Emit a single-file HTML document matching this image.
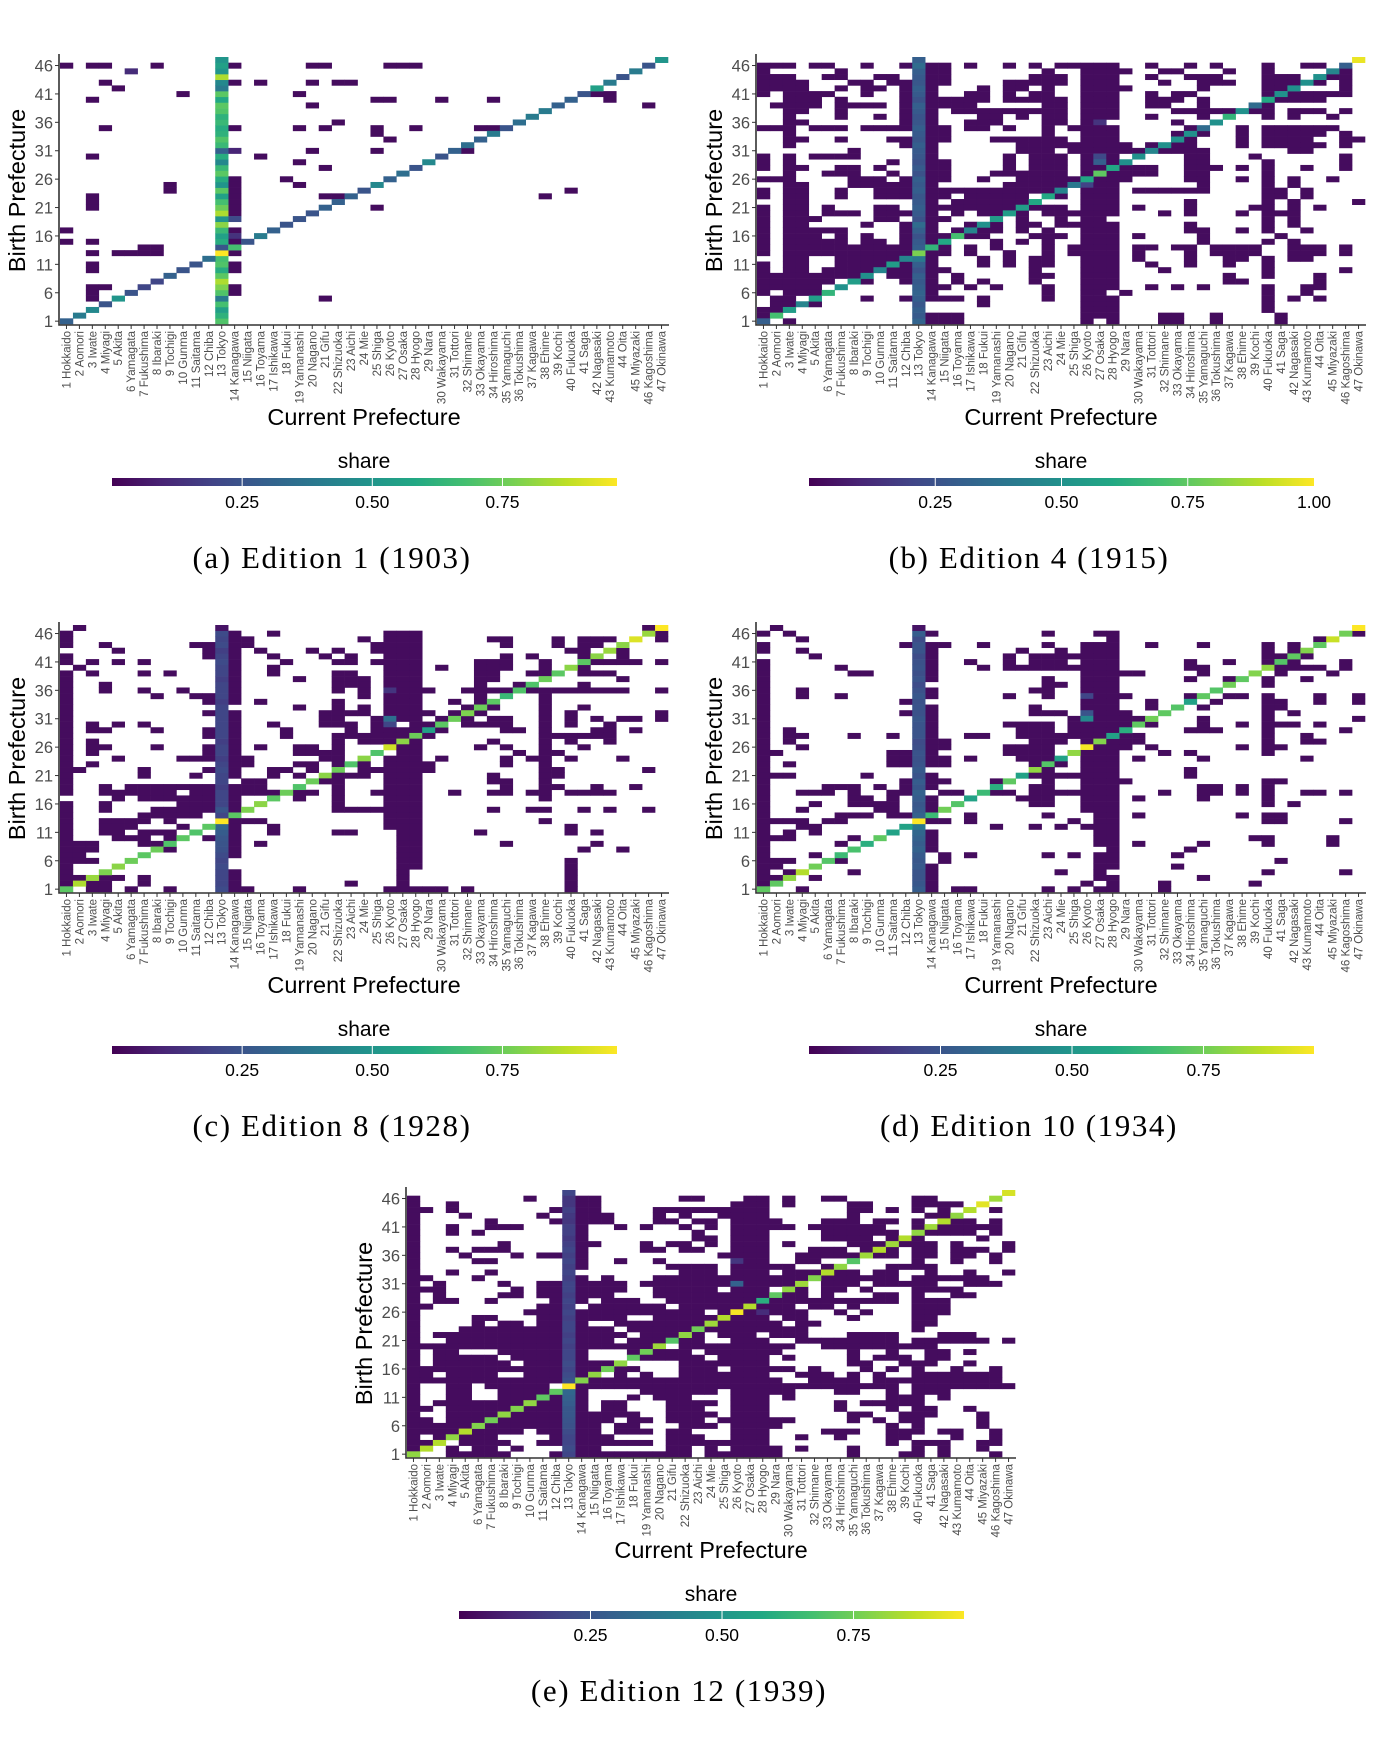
<!DOCTYPE html>
<html><head><meta charset="utf-8">
<style>
html,body{margin:0;padding:0;background:#fff;}
svg{display:block;}
</style></head>
<body>
<svg id="fig" width="1374" height="1737" viewBox="0 0 1374 1737" xmlns="http://www.w3.org/2000/svg" font-family="Liberation Sans, sans-serif"></svg>
<script>
const prefs = ["Hokkaido","Aomori","Iwate","Miyagi","Akita","Yamagata","Fukushima","Ibaraki","Tochigi","Gunma","Saitama","Chiba","Tokyo","Kanagawa","Niigata","Toyama","Ishikawa","Fukui","Yamanashi","Nagano","Gifu","Shizuoka","Aichi","Mie","Shiga","Kyoto","Osaka","Hyogo","Nara","Wakayama","Tottori","Shimane","Okayama","Hiroshima","Yamaguchi","Tokushima","Kagawa","Ehime","Kochi","Fukuoka","Saga","Nagasaki","Kumamoto","Oita","Miyazaki","Kagoshima","Okinawa"];
const yTicks = [1,6,11,16,21,26,31,36,41,46];
const captions = ["(a) Edition 1 (1903)","(b) Edition 4 (1915)","(c) Edition 8 (1928)","(d) Edition 10 (1934)","(e) Edition 12 (1939)"];
const barMax = [0.97,1.0,0.97,0.96,0.96];
const barTicksA = [0.25,0.5,0.75];
const barTicksB = [0.25,0.5,0.75,1.0];
const offVal = 0.03;

const diagA = [0.3,0.4,0.45,0.25,0.5,0.25,0.2,0.2,0.3,0.25,0.25,0.35,0.97,0.68,0.25,0.4,0.3,0.25,0.25,0.25,0.3,0.3,0.3,0.25,0.45,0.3,0.35,0.25,0.45,0.25,0.3,0.35,0.3,0.4,0.25,0.35,0.4,0.4,0.3,0.3,0.25,0.55,0.4,0.25,0.4,0.25,0.5];
const diagB = [0.3,0.7,0.55,0.45,0.55,0.65,0.5,0.55,0.5,0.45,0.55,0.45,0.8,0.65,0.6,0.7,0.45,0.5,0.55,0.55,0.55,0.6,0.6,0.45,0.4,0.6,0.75,0.6,0.5,0.5,0.45,0.5,0.5,0.5,0.35,0.5,0.65,0.5,0.35,0.6,0.5,0.5,0.5,0.5,0.45,0.3,0.97];
const diagC = [0.72,0.85,0.82,0.78,0.8,0.75,0.72,0.75,0.7,0.72,0.7,0.72,0.97,0.72,0.78,0.8,0.72,0.75,0.7,0.75,0.8,0.75,0.7,0.8,0.7,0.9,0.8,0.75,0.55,0.72,0.75,0.78,0.75,0.72,0.65,0.7,0.7,0.75,0.72,0.8,0.72,0.8,0.82,0.8,0.92,0.82,0.97];
const diagD = [0.72,0.72,0.8,0.85,0.75,0.7,0.65,0.68,0.6,0.72,0.55,0.55,0.97,0.65,0.75,0.7,0.55,0.65,0.6,0.72,0.55,0.8,0.7,0.55,0.8,0.95,0.78,0.55,0.6,0.72,0.75,0.72,0.7,0.55,0.72,0.7,0.75,0.72,0.78,0.8,0.7,0.72,0.78,0.72,0.88,0.75,0.97];
const diagE = [0.8,0.85,0.85,0.8,0.85,0.78,0.75,0.8,0.78,0.8,0.72,0.72,0.97,0.78,0.8,0.75,0.8,0.72,0.75,0.82,0.7,0.8,0.75,0.82,0.85,0.95,0.85,0.6,0.72,0.8,0.82,0.78,0.85,0.8,0.7,0.82,0.85,0.82,0.85,0.8,0.82,0.85,0.8,0.85,0.92,0.82,0.9];
const tokyoA = [0.7,0.62,0.55,0.68,0.4,0.7,0.78,0.85,0.72,0.6,0.7,0.68,0.97,0.25,0.6,0.55,0.65,0.8,0.5,0.85,0.75,0.68,0.55,0.72,0.5,0.6,0.72,0.65,0.45,0.6,0.3,0.65,0.7,0.62,0.6,0.65,0.62,0.7,0.72,0.58,0.72,0.4,0.45,0.85,0.5,0.55,0.5];
const tokyoB = [0.32,0.28,0.3,0.27,0.3,0.32,0.3,0.28,0.3,0.26,0.3,0.4,0.8,0.3,0.28,0.25,0.3,0.35,0.25,0.28,0.3,0.28,0.27,0.3,0.28,0.3,0.25,0.28,0.25,0.27,0.28,0.3,0.27,0.28,0.3,0.27,0.26,0.28,0.3,0.25,0.28,0.3,0.27,0.28,0.3,0.35,0.3];
const tokyoC = [0.22,0.2,0.2,0.2,0.22,0.2,0.22,0.24,0.25,0.26,0.28,0.32,0.97,0.2,0.25,0.2,0.2,0.2,0.18,0.2,0.2,0.22,0.2,0.18,0.2,0.2,0.18,0.2,0.2,0.2,0.2,0.2,0.2,0.18,0.2,0.2,0.2,0.18,0.2,0.2,0.22,0.2,0.18,0.22,0.2,0.22,0.05];
const tokyoD = [0.28,0.26,0.25,0.25,0.27,0.26,0.27,0.3,0.28,0.3,0.32,0.38,0.97,0.3,0.27,0.26,0.28,0.3,0.26,0.28,0.25,0.27,0.25,0.24,0.25,0.23,0.22,0.25,0.25,0.25,0.26,0.24,0.25,0.24,0.26,0.24,0.22,0.25,0.23,0.25,0.24,0.22,0.25,0.25,0.22,0.28,0.05];
const tokyoE = [0.2,0.22,0.2,0.2,0.22,0.24,0.25,0.26,0.26,0.28,0.3,0.32,0.97,0.24,0.22,0.2,0.22,0.2,0.2,0.18,0.2,0.18,0.2,0.2,0.18,0.2,0.18,0.2,0.18,0.2,0.2,0.18,0.2,0.18,0.2,0.18,0.2,0.18,0.16,0.18,0.18,0.15,0.16,0.18,0.15,0.15,0.2];

const offA = [[],[1,3,4,8,14,20,21,26,27,28],[6],[],[4,14,16,20,22,23],[5],[10,19,42,43],[3,25,26,30,34,43],[20,46],[],[],[22],[4,14,19,21,25,28,33,34],[25],[26],[],[14,20,25,32],[3,16],[19],[21],[],[14,18],[9,14,19],[9,14,40],[3,14,21,22,38],[3,14],[3,14,25],[14],[14],[],[1,14],[14],[1,3,14],[7,8],[3,5,6,7,8,14],[],[3,14],[3,14],[],[],[3,4,14],[3,14],[3,21],[],[],[],[]];
const offB = [[],[1,2,3,5,6,9,12,14,15,17,20,22,24,25,26,27,28,31,34,36,40,43,44],[1,7,14,15,23,26,27,28,29,32,33,37,40,46],[1,2,3,6,7,10,11,14,15,22,23,24,26,27,28,31,34,35,36,40,41,42,45,46],[1,2,3,4,8,9,11,12,14,15,20,21,22,23,24,26,27,28,32,35,36,37,40,41,42,44,46],[1,2,3,4,7,9,10,12,14,18,20,21,23,26,27,28,29,35,40,41,46],[1,3,4,5,6,9,12,14,17,18,20,22,23,26,27,28,31,33,34,40,42,43,44,45,46],[3,4,5,7,12,14,15,16,17,18,20,21,22,23,24,26,27,28,31,32,33,35,41,42,43,44],[2,3,4,5,7,8,9,10,12,14,15,16,17,23,24,26,27,28,31,32,35,40],[3,4,7,12,14,16,17,18,19,20,21,22,23,24,26,27,28,33,34,35,36,37,39,40,42,43,44,46],[3,7,10,12,14,18,19,21,23,24,26,27,28,31,35,40,42,45],[3,4,12,14,17,18,19,23,24,26,27,33],[1,2,3,5,6,7,9,10,11,12,14,15,17,18,20,23,25,26,27,28,34,38,40,41,42,43,44,45],[3,14,15,23,26,27,28,33,35,38,40,41,42,43,44,46],[3,4,7,11,12,14,15,19,20,21,22,23,24,26,27,28,34,38,40,41,42,43,46,47],[3,12,14,21,22,23,24,25,26,27,28,29,31,33,34,38,40,41,42,43,44,46],[8,14,21,22,23,25,26,27,28,29,30,32,33,34,35,42,43],[1,3,5,6,7,8,14,20,22,23,24,26,27,28,34,35,39,46],[1,3,11,14,15,20,22,23,24,26,27,28,34,35,40,46],[1,3,4,7,8,10,14,15,20,22,23,24,26,27,29,30,31,34,35,36,38,40,43,46],[3,6,7,8,11,14,15,19,20,21,22,23,24,26,28,29,30,31,34,35,40],[1,2,3,8,9,10,12,14,15,18,21,22,23,24,25,27,28,29,34,35,38,40,42,45],[3,4,8,9,10,11,12,14,20,21,22,23,24,26,27,28,35,40,42],[1,3,4,7,10,11,12,14,15,16,17,18,19,20,21,22,23,26,27,28,30,31,32,33,34,35,40,41,43],[1,3,4,7,10,11,12,14,15,17,18,19,20,21,24,26,27,28,40,41,43],[3,4,14,16,17,18,19,20,21,26,27,28,34,40,42,47],[1,3,4,6,10,11,14,15,16,17,18,19,20,22,23,24,26,27,28,30,34,39,40,42,44],[1,3,4,6,7,8,10,11,12,14,16,18,19,21,23,24,25,26,27,28,32,34,38,40,41,42],[1,3,4,5,10,11,14,15,21,24,26,27,40,42],[1,3,4,9,12,14,17,19,21,22,24,25,26,27,28,34,40,42],[1,3,4,5,6,7,12,14,16,18,19,21,23,26,27,28,34,35,38,40,43],[1,3,4,5,7,9,12,14,15,17,18,22,23,24,26,27,28,30,35,41],[1,3,4,5,6,7,9,10,12,14,19,21,23,26,27,28,35,40,42],[1,3,4,5,6,7,8,9,10,11,12,15,17,19,23,25,26,27,28,30,31,33,34,36,37,38,39,42,43,44,46],[1,3,4,5,6,7,8,9,10,11,12,14,15,17,20,23,25,26,27,28,30,34,36,37,38,39,42,43,44,46],[3,4,7,8,9,10,11,14,18,20,22,23,26,27,28,30,34,37,38,40,42,43],[1,3,4,7,8,9,10,12,14,18,20,22,23,26,27,28,31,34,37,40],[1,3,4,6,7,8,9,11,12,14,15,22,26,27,28,32,40,46],[1,2,3,4,5,6,7,8,11,12,14,16,22,23,26,27,28,37,40,44],[1,2,3,4,5,6,9,12,14,16,18,22,26,27,28,37,38,44],[1,2,3,4,5,14,15,17,19,23,26,27,28,31,33,35,40,43,44],[1,3,4,5,14,23,26,27,29,40,43],[2,3,9,12,14,15,16,18,23,26,27,28,40,42,44],[2,3,4,5,18,26,27,28,40],[1,2,26,27,28,40],[1,14,15,16,26,27,28,32,33,36,41],[3,14,15,16,26,28,32,33,36,41]];
const offC = [[2,46],[1,14,17,26,27,28,47],[1,14,15,24,26,27,28,34,35,39,41,42,43,47],[1,4,11,12,14,15,25,26,27,28,35,39,41,42],[5,12,14,16,20,22,25,26,27,28,40,41,43,44],[1,12,14,17,21,23,26,27,28,35,37,41,42,44],[1,3,5,7,14,18,22,23,25,26,27,28,33,34,35,38,42,43,44,45,47],[2,14,17,26,27,28,30,33,34,35,38,41],[1,3,7,9,14,17,22,23,26,27,28,33,34,37,38,41,42,43],[1,14,19,22,23,24,26,27,28,33,34,38,44],[1,4,14,22,23,24,26,27,28,33,36,37,41],[1,4,7,10,14,22,24,26,27,28,29,32,33,34,35,37,38,39,40,41,42,43,44,47],[1,8,11,12,14,24,26,27,28,33,38],[1,12,14,16,22,26,27,28,31,33,34,38],[1,19,22,24,26,27,28,32,34,38,41],[1,12,14,21,22,23,24,26,27,28,29,31,33,38,40,47],[1,14,21,22,25,26,27,28,30,31,32,34,35,38,40,42,44,45,47],[1,3,5,7,14,17,21,22,23,25,26,28,29,32,33,34,35,38,40,43],[1,3,4,8,12,14,18,23,25,26,27,28,29,30,35,36,38,42,43,45],[1,12,14,18,22,23,24,25,26,27,28,29,38,39,40,41,42,43],[1,3,14,22,24,25,26,27,28,34,38,40,43],[1,3,4,8,12,14,16,19,20,22,26,27,28,33,35,38,41],[1,3,12,14,19,20,21,22,27,28,36,38,39],[1,5,10,11,12,14,15,21,22,24,26,27,28,30,35,37,38,40,44],[1,3,14,15,19,20,22,23,24,26,27,28,29,35,38],[1,2,7,12,14,17,18,20,22,24,25,26,27,28,29,38,39,46],[1,7,11,14,17,19,21,22,23,24,26,27,28,34,38,39],[1,15,16,21,22,26,27,28,34,35,38],[1,4,6,7,8,9,10,11,12,14,15,16,22,26,27,28,35,38,39,42,45],[1,4,5,6,7,8,9,11,12,14,15,16,17,19,20,22,25,26,27,28,31,34,35,37,38,40,41,42,43],[5,7,8,9,10,11,12,14,19,22,26,27,28,38],[1,4,10,11,12,14,22,26,27,28],[1,4,8,9,10,11,12,14,22,23,24,25,26,27,28,34,37,38,41,43,46],[1,7,8,9,10,11,14,26,27,28],[1,4,5,6,7,9,14,15,16,26,27,28,38],[1,4,5,6,10,14,17,26,27,28,40],[1,4,5,7,8,9,14,17,22,23,27,28,33,40,42],[1,5,6,7,9,12,14,27,28],[1,2,3,7,8,14,16,27,28,35,42],[1,2,3,8,9,14,27,28,41,44],[1,2,7,14,27,28],[1,2,3,27,28,40],[1,27,28,40],[1,14,27,40],[1,2,4,5,7,14,27,40],[1,3,4,7,14,23,27,40],[3,4,6,9,14,15,19,26,27,28,29,30,32,40]];
const offD = [[2],[1,3,14,23,27,28,47],[4,28,44],[1,12,14,15,18,23,26,27,28,31,35,40,42],[1,4,14,21,24,26,27,28,40,42,43],[5,14,20,22,23,24,25,26,27,28,40,41,43],[1,14,17,20,22,23,24,26,27,28,34,37,40,41,42,46],[1,7,14,18,20,21,22,23,24,25,26,27,28,34,35,40,41,42,43,44,46],[1,8,9,14,26,27,28,29,30,35,41,45],[1,14,23,26,27,28,34,37,38,40,43],[1,23,24,26,27,28,40],[1,4,14,22,23,26,27,28],[1,4,7,14,20,23,26,27,28,29,34,35,37,38,40,44,47],[1,12,26,27,28,31,34,36,40,41,44,47],[1,14,22,26,27,28,31,35,40,41],[1,12,14,22,23,24,26,27,28,29,40,42],[1,14,25,26,27,28,29,30,35,40,47],[1,14,20,21,22,23,25,26,27,28,29,30,31,35,38,40,41,42,44],[1,3,14,21,22,23,25,26,27,28,34,35,36,40,46],[1,3,4,8,11,14,17,18,21,22,23,24,25,26,27,29,30,40,43],[1,3,14,15,22,23,24,26,27,28,29,30,40,43,44],[1,4,14,15,20,21,22,23,26,27,28,29,31,38,40,41],[1,2,11,12,14,20,21,22,23,26,27,28,32,34,40],[1,11,12,14,15,17,21,22,23,24,26,27,28,30,35,43],[1,3,11,12,14,15,22,23,24,26,27,28],[1,22,23,26,27,28,34],[1,2,3,9,14,21,22,23,24,25,26,27,28,34],[1,12,14,15,19,23,26,27,28,29,40,41],[1,6,7,8,10,12,14,22,23,26,27,28,35,36,38,40],[1,4,5,6,8,11,12,15,16,19,20,22,23,24,25,26,27,28,32,35,36,38,40,43,44,46],[1,8,9,11,14,21,22,23,26,27,28,30,35,40],[1,5,8,9,10,11,14,22,23,26,27,28,40,42],[1,4,10,11,14,26,27,28],[1,7,8,9,11,12,14,17,23,27,28,30,38,40,41],[1,2,3,4,6,7,14,15,17,25,27,28,40,41,46],[1,4,5,19,22,24,26,27,28],[1,3,5,14,27,28],[1,2,3,8,14,27,28,39,40,45],[1,7,14,27,28,30,35,40,45],[1,8,14,28,34],[1,5,15,17,23,25,27,28,33],[1,2,3,7,15,27,28,41],[1,2,14,27,28,33],[1,3,4,8,14,24,27,40,46],[1,2,5,14,27,28,35],[1,14,26,28,32,39],[4,14,16,17,23,25,27,28,32]];
const offE = [[13],[1,10,14,15,22,23,27,28,30,33,34,40,41,46],[1,4,14,15,26,27,28,30,35,36,40,41,42,43],[1,2,4,12,14,15,20,21,22,23,24,25,26,27,28,35,36,38,40,42,44,46],[1,5,11,14,15,16,20,22,25,26,27,28,35,41,42],[1,7,12,14,15,16,20,21,23,24,26,27,28,29,33,34,35,37,38,40,43,44,46],[1,4,7,8,9,14,17,19,22,24,26,27,28,29,30,32,33,34,35,36,37,40,41,42,43,44,45,46],[1,4,6,14,23,26,27,28,33,34,35,36,37,38,41,42,43,44,46],[1,14,23,24,26,27,28,33,34,35,36,38,39,40,45],[1,8,14,15,19,21,22,24,26,27,28,30,35,36,37,39,40,41,43,47],[1,4,6,7,8,14,19,20,22,23,26,27,28,32,33,34,36,38,40,41,43,44,45,47],[1,5,9,11,12,14,25,26,27,28,31,32,33,34,35,37,38,40,41,43,44,46],[1,6,7,14,17,20,26,27,28,31,32,35,40,43,46],[1,14,21,22,23,24,26,27,28,29,30,33,38,39,40,41],[1,4,7,22,23,24,26,27,28,30,31,32,34,35,37,38,41,44,47],[1,2,6,14,16,20,21,22,23,24,25,26,27,28,29,30,31,33,34,35,36,37,38,40,41,42,43,44,45],[1,3,8,11,12,14,15,16,17,19,20,21,22,23,24,25,26,27,28,29,30,33,34,35,37,38,39,40,41,44,45,46],[1,2,3,9,11,12,14,15,16,17,20,21,22,23,24,26,27,28,30,31,33,34,36,40,41,42,43],[1,3,8,9,11,12,14,15,16,20,21,22,23,24,25,26,27,28,29,30,31,33,37,38,40,43,44],[1,3,4,7,12,14,16,17,18,21,22,23,24,25,26,27,28,29,30,31,32,33,34,35,36,37,38,40,41,42],[1,2,11,12,15,16,17,18,19,20,22,23,24,25,26,27,28,29,30,32,33,35,40,41,42],[1,10,11,12,14,15,16,17,18,19,20,21,22,23,25,26,27,28,29,30,31,34,36,40,41,42],[1,6,7,11,12,14,15,16,17,20,21,22,23,24,25,26,27,28,30,31,35,40,41],[1,6,8,9,11,12,14,17,18,19,20,21,22,23,25,26,27,28,29,31,32,40,41],[1,5,6,7,8,9,10,11,12,14,15,16,18,19,20,21,22,23,24,25,26,27,28,29,30,31,40],[1,3,4,5,6,7,8,9,10,11,12,14,15,16,17,19,20,21,23,25,26,27,29,30,31,35,36,37,38,42,43,44],[1,4,5,6,7,8,9,10,11,12,14,15,16,18,19,20,21,22,23,26,27,28,31,32,33,34,35,36,37,38,40,41,42,43,44,45,47],[1,2,3,4,5,6,7,8,9,10,11,12,14,15,16,17,18,19,20,22,23,24,25,26,27,28,29,30,33,34,35,36,37,38,39,40,41],[1,3,4,8,9,10,11,12,14,18,19,20,21,22,24,25,26,27,28,29,35,38,41,42,44],[1,3,4,5,6,7,9,10,11,12,14,18,19,20,21,22,23,25,26,27,28,30,35,37,38,39,41,42],[1,3,4,5,6,7,8,10,11,12,14,15,16,22,23,24,25,26,27,28,35,36,39,40,41,44],[1,2,3,4,5,6,7,8,9,10,11,12,14,15,17,18,22,23,24,26,27,28,29,30,32,36,38,40,43,46],[1,2,4,5,6,7,10,11,12,14,15,17,19,22,23,24,25,26,27,28,31,32,33,35,37,40,41,42,43,44,45,46],[1,2,3,4,5,6,7,8,9,10,11,12,15,16,17,18,19,20,21,22,23,24,25,26,27,28,29,32,33,34,35,37,38,39,40,41,42,43,44,45,46],[1,4,5,7,8,9,10,11,14,15,16,17,18,19,20,21,22,23,24,25,26,27,28,29,30,31,32,33,34,35,36,37,38,40,41,42,43,44,45,46,47],[1,4,5,8,9,10,11,14,19,20,21,22,23,24,26,27,28,29,30,34,35,38,40,41,42],[1,4,5,8,9,10,12,14,18,20,21,22,26,27,28,30,38,39,40,42],[1,3,4,5,6,7,8,9,11,12,14,16,17,21,22,23,24,26,27,28,34,36,37,38,39,40],[1,2,4,5,6,7,8,10,11,12,14,16,17,21,22,23,26,27,28,34,38,40,41,44],[1,4,5,6,7,9,10,11,12,14,15,16,17,18,21,22,23,24,26,27,28,35,36,39,40,41,45],[1,2,4,5,6,8,9,10,11,12,14,15,16,18,19,21,22,23,25,26,27,28,29,30,35,37,39,40,45],[1,2,3,4,5,7,8,9,10,11,12,14,15,17,18,22,23,24,26,27,28,29,38,40,45],[1,2,3,4,6,7,8,9,11,12,14,15,17,18,19,21,22,26,27,28,33,34,35,38,39,40,42,43,46],[1,3,5,6,7,12,14,15,16,21,22,23,26,27,28,31,34,38,39,43,46],[1,2,5,6,7,8,11,12,14,15,16,17,18,19,21,22,23,24,25,26,27,28,38,40,41,42,45,46],[1,4,6,7,9,14,15,21,22,24,26,27,28,29,31,35,40,42,45],[4,5,6,7,8,12,14,15,16,17,18,19,20,21,22,24,25,26,27,28,29,35,39,40,42,46]];
const specA = [[19,14,0.22],[16,14,0.14],[45,6,0.12],[31,14,0.1]];
const specB = [[29,27,0.3],[30,27,0.22],[36,27,0.15],[25,26,0.2]];
const specC = [[31,26,0.35],[30,26,0.2],[36,26,0.15]];
const specD = [[35,26,0.2],[31,26,0.45],[32,26,0.25]];
const specE = [[31,26,0.3],[35,26,0.15],[26,28,0.12]];

const panels = [
 {x:60,y:57,diag:diagA,tokyo:tokyoA,off:offA,spec:specA,ticks:barTicksA,max:barMax[0],cap:captions[0],id:'a'},
 {x:757,y:57,diag:diagB,tokyo:tokyoB,off:offB,spec:specB,ticks:barTicksB,max:barMax[1],cap:captions[1],id:'b'},
 {x:60,y:625,diag:diagC,tokyo:tokyoC,off:offC,spec:specC,ticks:barTicksA,max:barMax[2],cap:captions[2],id:'c'},
 {x:757,y:625,diag:diagD,tokyo:tokyoD,off:offD,spec:specD,ticks:barTicksA,max:barMax[3],cap:captions[3],id:'d'},
 {x:407,y:1190,diag:diagE,tokyo:tokyoE,off:offE,spec:specE,ticks:barTicksA,max:barMax[4],cap:captions[4],id:'e'}
];

const vstops = ["#440154","#482475","#414487","#355f8d","#2a788e","#21918c","#22a884","#44bf70","#7ad151","#bddf26","#fde725"];
function hex2rgb(h){return [parseInt(h.slice(1,3),16),parseInt(h.slice(3,5),16),parseInt(h.slice(5,7),16)];}
function viridis(t){t=Math.max(0,Math.min(1,t));const f=t*10;const i=Math.min(9,Math.floor(f));const r=f-i;const a=hex2rgb(vstops[i]),b=hex2rgb(vstops[i+1]);return 'rgb('+a.map((v,k)=>Math.round(v+(b[k]-v)*r)).join(',')+')';}

const NS='http://www.w3.org/2000/svg';
const svg=document.getElementById('fig');
function el(tag,attrs,parent){const e=document.createElementNS(NS,tag);for(const k in attrs)e.setAttribute(k,attrs[k]);(parent||svg).appendChild(e);return e;}
const defs=el('defs',{});
const W=608,H=267,N=47,cw=W/N,rh=H/N;

panels.forEach((p,pi)=>{
  const g=el('g',{});
  
  
  const xs=c=>p.x+(c-1)*cw;
  const ys=r=>p.y+(N-r)*rh;
  const vals={};
  p.off.forEach((cols,i)=>{const r=N-i;cols.forEach(c=>{vals[r+'_'+c]=offVal;});});
  p.tokyo.forEach((v,i)=>{vals[(i+1)+'_13']=v;});
  p.spec.forEach(s=>{vals[s[0]+'_'+s[1]]=s[2];});
  p.diag.forEach((v,i)=>{vals[(i+1)+'_'+(i+1)]=v;});
  for(const key in vals){
    const [r,c]=key.split('_').map(Number);
    const rect=el('rect',{x:xs(c).toFixed(2),y:ys(r).toFixed(2),width:(cw+0.3).toFixed(2),height:(rh+0.3).toFixed(2),fill:viridis(vals[key]/p.max)},g);
    
    
  }
  const ax=el('path',{d:`M${p.x-1} ${p.y-3} V${p.y+H+1} H${p.x+W+1}`,stroke:'#333',fill:'none','stroke-width':1.6},g);
  
  
  yTicks.forEach(t=>{
    const yy=ys(t)+rh/2;
    el('line',{x1:p.x-5,x2:p.x-1,y1:yy,y2:yy,stroke:'#333','stroke-width':1},g);
    const tx=el('text',{x:p.x-7,y:yy+6,'text-anchor':'end','font-size':16.5,fill:'#4d4d4d'},g);
    tx.textContent=t;
    
    
  });
  prefs.forEach((n,i)=>{
    const xx=xs(i+1)+cw/2;
    el('line',{x1:xx,x2:xx,y1:p.y+H+1,y2:p.y+H+5,stroke:'#333','stroke-width':1},g);
    const tx=el('text',{transform:`translate(${xx+4},${p.y+H+7}) rotate(-90)`,'text-anchor':'end','font-size':11.5,fill:'#4d4d4d'},g);
    tx.textContent=(i+1)+' '+n;
    
    
  });
  const yt=el('text',{transform:`translate(${p.x-35},${p.y+H/2}) rotate(-90)`,'text-anchor':'middle','font-size':23.5,fill:'#000'},g);
  yt.textContent='Birth Prefecture';
  
  
  const xt=el('text',{x:p.x+W/2,y:p.y+H+101,'text-anchor':'middle','font-size':23.5,fill:'#000'},g);
  xt.textContent='Current Prefecture';
  
  
  const st=el('text',{x:p.x+W/2,y:p.y+H+144,'text-anchor':'middle','font-size':21,fill:'#000'},g);
  st.textContent='share';
  
  
  const gid='grad'+p.id;
  const lg=el('linearGradient',{id:gid,x1:0,x2:1,y1:0,y2:0},defs);
  for(let k=0;k<=10;k++)el('stop',{offset:(k/10),'stop-color':viridis(k/10)},lg);
  const bx=p.x+52,bw=505,by=p.y+H+154;
  const bar=el('rect',{x:bx,y:by,width:bw,height:8,fill:`url(#${gid})`},g);
  
  
  p.ticks.forEach(t=>{
    const xx=bx+t/p.max*bw;
    if(t<p.max-0.001)el('line',{x1:xx,x2:xx,y1:by,y2:by+8,stroke:'#fff','stroke-width':1},g);
    const tx=el('text',{x:xx,y:by+30,'text-anchor':'middle','font-size':17.5,fill:'#000'},g);
    tx.textContent=t.toFixed(2);
    
    
  });
  const cap=el('text',{x:p.x+W/2-32,y:p.y+H+244,'text-anchor':'middle','font-size':31,'letter-spacing':1.6,fill:'#000','font-family':'Liberation Serif, serif'},g);
  cap.textContent=p.cap;
  
  
});
</script>
</body></html>
